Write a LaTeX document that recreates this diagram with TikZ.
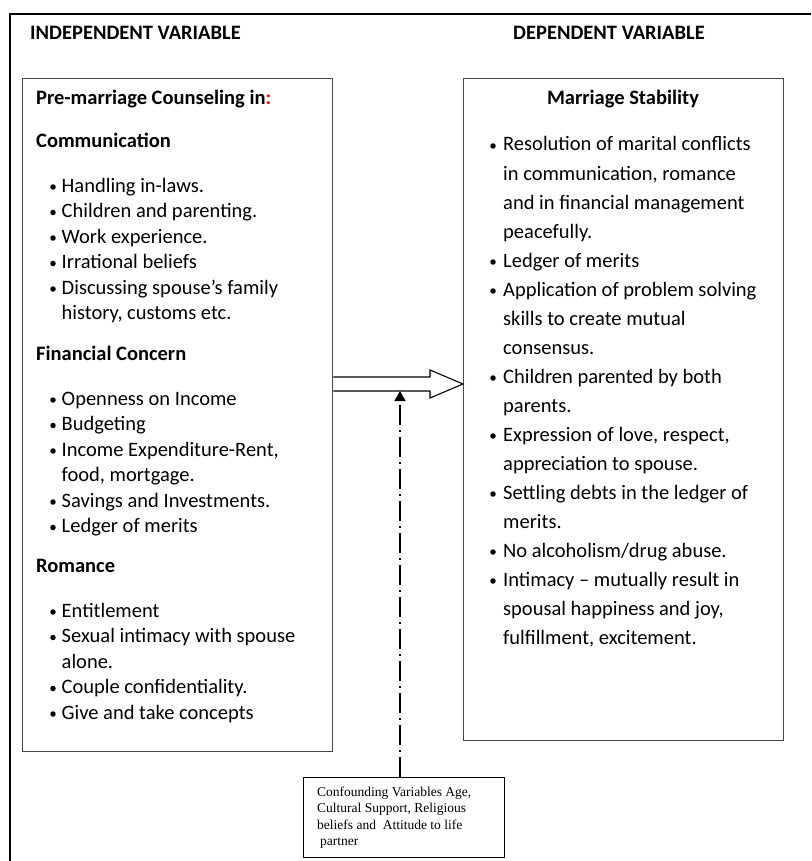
\documentclass[tikz,border=0pt]{standalone}
\usepackage{fontspec}
\setmainfont{Carlito}
\newfontfamily\confont{Liberation Serif}
\usetikzlibrary{arrows.meta,calc}

% one line of body text in a panel, and its bullet
\newcommand\Lrow[3]{\node[txt] (#1) at (61.5,#2) {#3};}
\newcommand\Lbul[2]{\node[bul] (#1) at (53,#2-5) {};}
\newcommand\Rrow[3]{\node[txt] (#1) at (503,#2) {#3};}
\newcommand\Rbul[2]{\node[bul] (#1) at (493,#2-5) {};}

\begin{document}
\begin{tikzpicture}[x=1pt,y=-1pt,
  txt/.style={anchor=base west, inner sep=0pt, font=\fontsize{20.5}{25}\selectfont},
  hd/.style={txt, font=\fontsize{20.5}{25}\selectfont\bfseries},
  bul/.style={circle, fill=black, inner sep=0pt, minimum size=5.5pt},
  panel/.style={draw=black!72, line width=1.3pt, rectangle, inner sep=0pt, anchor=north west},
  note/.style={anchor=base west, inner sep=0pt, font=\confont\fontsize{13.5}{16.5}\selectfont},
  hollow/.style={draw=black, line width=1.1pt, line join=miter, fill=white},
  dashdot/.style={line width=1.5pt, dash pattern=on 20pt off 5pt on 2pt off 5pt},
]
\useasboundingbox (0,0) rectangle (811,861);

% outer frame
\draw[line width=2pt] (9.5,861) -- (9.5,14) -- (811,14);

% column headings
\node[hd] (indep) at (30,40) {INDEPENDENT VARIABLE};
\node[hd] (dep) at (513,40) {DEPENDENT VARIABLE};

% panels
\node[panel, minimum width=310pt, minimum height=673pt] (L) at (22,78) {};
\node[panel, minimum width=320pt, minimum height=662pt] (R) at (463,78) {};
\node[panel, draw=black, minimum width=201pt, minimum height=80pt] (C) at (303,777) {};

% left panel: independent variable
\node[hd] (lt) at (36,105) {Pre-marriage Counseling in\textcolor{red}{:}};
\node[hd] (lcom) at (36,148) {Communication};
\Lbul{lb1}{192}\Lrow{l1}{192}{Handling in-laws.}
\Lbul{lb2}{217.5}\Lrow{l2}{217.5}{Children and parenting.}
\Lbul{lb3}{243}\Lrow{l3}{243}{Work experience.}
\Lbul{lb4}{268.5}\Lrow{l4}{268.5}{Irrational beliefs}
\Lbul{lb5}{294}\Lrow{l5}{294}{Discussing spouse’s family}
\Lrow{l6}{319.5}{history, customs etc.}
\node[hd] (lfin) at (36,360) {Financial Concern};
\Lbul{lb7}{405}\Lrow{l7}{405}{Openness on Income}
\Lbul{lb8}{430.5}\Lrow{l8}{430.5}{Budgeting}
\Lbul{lb9}{456}\Lrow{l9}{456}{Income Expenditure-Rent,}
\Lrow{l10}{481.5}{food, mortgage.}
\Lbul{lb11}{507}\Lrow{l11}{507}{Savings and Investments.}
\Lbul{lb12}{532.5}\Lrow{l12}{532.5}{Ledger of merits}
\node[hd] (lrom) at (36,572) {Romance};
\Lbul{lb13}{617}\Lrow{l13}{617}{Entitlement}
\Lbul{lb14}{642.5}\Lrow{l14}{642.5}{Sexual intimacy with spouse}
\Lrow{l15}{668}{alone.}
\Lbul{lb16}{693.5}\Lrow{l16}{693.5}{Couple confidentiality.}
\Lbul{lb17}{719}\Lrow{l17}{719}{Give and take concepts}

% right panel: dependent variable
\node[hd, anchor=base] (rt) at (623,105) {Marriage Stability};
\Rbul{rb1}{151}\Rrow{r1}{151}{Resolution of marital conflicts}
\Rrow{r2}{180}{in communication, romance}
\Rrow{r3}{209}{and in financial management}
\Rrow{r4}{238}{peacefully.}
\Rbul{rb5}{267}\Rrow{r5}{267}{Ledger of merits}
\Rbul{rb6}{296}\Rrow{r6}{296}{Application of problem solving}
\Rrow{r7}{325}{skills to create mutual}
\Rrow{r8}{354}{consensus.}
\Rbul{rb9}{383}\Rrow{r9}{383}{Children parented by both}
\Rrow{r10}{412}{parents.}
\Rbul{rb11}{441}\Rrow{r11}{441}{Expression of love, respect,}
\Rrow{r12}{470}{appreciation to spouse.}
\Rbul{rb13}{499}\Rrow{r13}{499}{Settling debts in the ledger of}
\Rrow{r14}{528}{merits.}
\Rbul{rb15}{557}\Rrow{r15}{557}{No alcoholism/drug abuse.}
\Rbul{rb16}{586}\Rrow{r16}{586}{Intimacy – mutually result in}
\Rrow{r17}{615}{spousal happiness and joy,}
\Rrow{r18}{644}{fulfillment, excitement.}

% confounding variables
\node[note] (c1) at (317,796) {Confounding Variables Age,};
\node[note] (c2) at (317,812.5) {Cultural Support, Religious};
\node[note] (c3) at (317,829) {beliefs and \ Attitude to life};
\node[note] (c4) at (320,845.5) {partner};

% hollow block arrow from the left panel to the right panel
\coordinate (atail) at (L.east |- 0,384);
\coordinate (atip) at (R.west |- 0,384);
\draw[hollow] ($(atail)+(0,-7)$) -- ($(atip)+(-33,-7)$) -- ($(atip)+(-33,-14)$)
  -- (atip) -- ($(atip)+(-33,14)$) -- ($(atip)+(-33,7)$) -- ($(atail)+(0,7)$);

% dash-dot connector from the confounding box up to the arrow
\coordinate (shaftbot) at (400,391);
\draw[dashdot, -{Triangle[length=10pt,width=11pt]}] (C.north -| shaftbot) -- (shaftbot);
\end{tikzpicture}
\end{document}
